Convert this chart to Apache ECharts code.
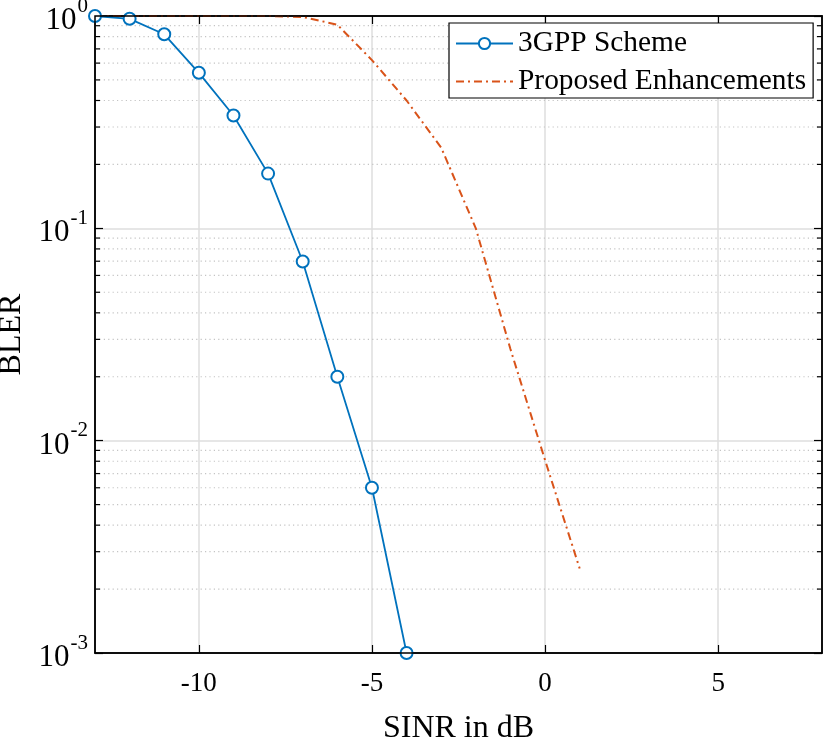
<!DOCTYPE html>
<html>
<head>
<meta charset="utf-8">
<script src="https://cdn.jsdelivr.net/npm/echarts@6/dist/echarts.min.js"></script>
<style>html,body{margin:0;padding:0;background:#fff}#c{width:832px;height:740px}</style>
</head>
<body>
<div id="c"></div>
<script>
const sinrBlue = [-13, -12, -11, -10, -9, -8, -7, -6, -5, -4];
const blerBlue = [1.0, 0.97, 0.82, 0.54, 0.34, 0.181, 0.0698, 0.020, 0.006, 0.001];
const sinrOrange = [-13, -12, -11, -10, -9, -8, -7, -6, -5, -4, -3, -2, -1, 0, 1];
const blerOrange = [1.0, 1.0, 1.0, 1.0, 1.0, 1.0, 0.99, 0.91, 0.62, 0.40, 0.24, 0.10, 0.027, 0.0081, 0.0025];
const xTicks = [-10, -5, 0, 5];
const minorY = [];
[0.001, 0.01, 0.1].forEach(d => { for (let k = 2; k <= 9; k++) minorY.push(+(d * k).toPrecision(3)); });
const xMin = -13, xMax = 8, yMin = 0.001, yMax = 1;
const seriesNames = ['3GPP Scheme', 'Proposed Enhancements'];

const FONT = '"Liberation Serif", "Times New Roman", serif';
const chart = echarts.init(document.getElementById('c'), null, {renderer: 'canvas'});
const supRich = {
  b: {fontFamily: FONT, fontSize: 31, color: '#000', padding: [10, 0, 0, 0]},
  s: {fontFamily: FONT, fontSize: 21, color: '#000', verticalAlign: 'top', padding: [0, 0, 18, 1]}
};
chart.setOption({
  animation: false,
  backgroundColor: '#fff',
  grid: {left: 95, right: 10, top: 16, bottom: 87, outerBoundsMode: 'none', show: true, borderColor: '#000', borderWidth: 1.5, backgroundColor: 'transparent', z: 5},
  legend: {
    data: [{name: seriesNames[0]}, {name: seriesNames[1], itemStyle: {opacity: 0}}],
    orient: 'vertical', left: 449, top: 23,
    backgroundColor: '#fff', borderColor: '#000', borderWidth: 1.2,
    padding: [6, 7, 2, 6], itemGap: 9, itemWidth: 57, itemHeight: 14,
    textStyle: {fontFamily: FONT, fontSize: 29.4, color: '#000'}
  },
  xAxis: [{
    type: 'value', min: xMin, max: xMax, position: 'bottom',
    name: 'SINR in dB', nameLocation: 'middle', nameGap: 60,
    nameTextStyle: {fontFamily: FONT, fontSize: 32, color: '#000'},
    axisLine: {show: true, onZero: false, lineStyle: {color: '#000', width: 1.5}},
    axisTick: {show: true, inside: true, length: 8, customValues: xTicks, lineStyle: {color: '#000', width: 1.2}},
    axisLabel: {customValues: xTicks, margin: 17, fontFamily: FONT, fontSize: 27, color: '#000'},
    splitLine: {show: true, lineStyle: {color: '#dedede', width: 1.5}}
  }, {
    type: 'value', min: xMin, max: xMax, position: 'top',
    axisLine: {show: true, onZero: false, lineStyle: {color: '#000', width: 1.5}},
    axisTick: {show: true, inside: true, length: 8, customValues: xTicks, lineStyle: {color: '#000', width: 1.2}},
    axisLabel: {show: false}, splitLine: {show: false}
  }],
  yAxis: [{
    type: 'log', logBase: 10, min: yMin, max: yMax, position: 'left',
    name: 'BLER', nameLocation: 'middle', nameGap: 64, nameRotate: 90,
    nameTextStyle: {fontFamily: FONT, fontSize: 32, color: '#000'},
    axisLine: {show: true, onZero: false, lineStyle: {color: '#000', width: 1.5}},
    axisTick: {show: true, inside: true, length: 8, lineStyle: {color: '#000', width: 1.2}},
    axisLabel: {
      margin: 7,
      formatter: v => '{b|10}{s|' + Math.round(Math.log10(v)) + '}',
      rich: supRich
    },
    splitLine: {show: true, lineStyle: {color: '#dedede', width: 1.5}}
  }, {
    type: 'log', logBase: 10, min: yMin, max: yMax, position: 'right',
    axisLine: {show: true, onZero: false, lineStyle: {color: '#000', width: 1.5}},
    axisTick: {show: true, inside: true, length: 8, lineStyle: {color: '#000', width: 1.2}},
    axisLabel: {show: false}, splitLine: {show: false}
  }],
  series: [{
    type: 'custom', name: 'minor', silent: true, z: 1,
    xAxisIndex: 0, yAxisIndex: 0,
    data: minorY.map(v => [xMin, v]),
    renderItem: (params, api) => {
      const y = api.coord([xMin, api.value(1)])[1];
      const cs = params.coordSys;
      const x0 = cs.x, x1 = cs.x + cs.width;
      return {type: 'group', children: [
        {type: 'line', shape: {x1: x0, y1: y, x2: x1, y2: y}, style: {stroke: '#c4c4c4', lineWidth: 1.2, lineDash: [1.2, 3.2]}},
        {type: 'line', shape: {x1: x0, y1: y, x2: x0 + 5, y2: y}, style: {stroke: '#000', lineWidth: 1.2}},
        {type: 'line', shape: {x1: x1, y1: y, x2: x1 - 5, y2: y}, style: {stroke: '#000', lineWidth: 1.2}}
      ]};
    }
  }, {
    type: 'line', name: seriesNames[0], z: 4,
    data: sinrBlue.map((x, i) => [x, blerBlue[i]]),
    symbol: 'emptyCircle', symbolSize: 12,
    lineStyle: {color: '#0072BD', width: 1.8},
    itemStyle: {color: '#0072BD', borderWidth: 1.8}
  }, {
    type: 'line', name: seriesNames[1], z: 3,
    data: sinrOrange.map((x, i) => [x, blerOrange[i]]),
    symbol: 'none',
    lineStyle: {color: '#D95319', width: 2, type: [8, 4, 2, 4]},
    itemStyle: {color: '#D95319'}
  }]
});
</script>
</body>
</html>
